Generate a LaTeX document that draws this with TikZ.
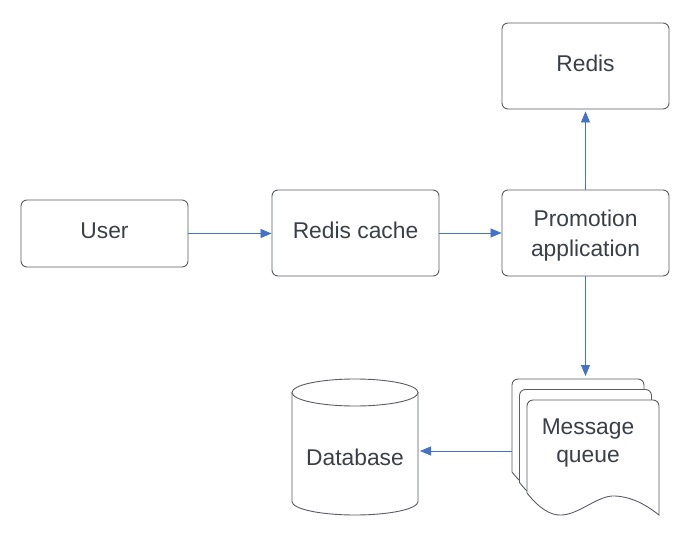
\documentclass[tikz,border=0pt]{standalone}
\usepackage{fontspec}
\setmainfont{Liberation Sans}
\usetikzlibrary{arrows.meta}
\definecolor{txt}{HTML}{3A3F48}
\definecolor{brd}{HTML}{5A5D63}
\definecolor{arr}{HTML}{4472C4}
\begin{document}
\begin{tikzpicture}[x=1pt,y=-1pt,
  box/.style={draw=brd,line width=0.9pt,rounded corners=6pt,fill=white,
    minimum width=167pt,inner sep=0pt},
  lbl/.style={inner sep=0pt,align=center,text=txt,font=\fontsize{22.8}{30}\selectfont},
  shapeline/.style={draw=brd,line width=0.9pt,fill=white},
  conn/.style={draw=arr,line width=0.8pt,-{Triangle[length=11pt,width=9pt]}}]
\useasboundingbox (0,0) rectangle (690,537);
\fill[white] (0,0) rectangle (690,537);
% boxes
\node[box,minimum height=67pt] (user) at (104.5,233.5) {};
\node[box,minimum height=86pt] (cache) at (355.5,233) {};
\node[box,minimum height=86pt] (promo) at (585.5,233) {};
\node[box,minimum height=86pt] (redis) at (585.5,66) {};
\node[lbl] (userl) at (user.center) [yshift=2.5pt] {User};
\node[lbl] (cachel) at (cache.center) [yshift=2.5pt] {Redis cache};
\node[lbl,font=\fontsize{22.8}{30.5}\selectfont] (promol) at (promo.center) [yshift=-2.5pt] {Promotion\\application};
\node[lbl] (redisl) at (redis.center) [yshift=3pt] {Redis};
% message queue (stacked documents)
\foreach \dx/\dy in {-15/-21,-7.5/-10.5,0/0}{
  \begin{scope}[shift={(\dx,\dy)}]
  \path[shapeline] (527,493) -- (527,406) .. controls (527,402.7) and (529.7,400) .. (533,400)
    -- (653,400) .. controls (656.3,400) and (659,402.7) .. (659,406) -- (659,515)
    .. controls (650,508) and (635,497) .. (615,496)
    .. controls (598,495) and (580,514) .. (562,515)
    .. controls (550,516) and (538,507) .. (527,493) -- cycle;
  \end{scope}}
\node[lbl,font=\fontsize{22.8}{28}\selectfont] (mq) at (588,443) {Message\\queue};
\coordinate (mqtop) at (585.5,379);
\coordinate (mqleft) at (512,451);
% database cylinder
\path[shapeline] (292,392.5) -- (292,501.5) .. controls (292,508.96) and (320.2,515) .. (355,515)
  .. controls (389.8,515) and (418,508.96) .. (418,501.5) -- (418,392.5) -- cycle;
\draw[shapeline] (355,392.5) ellipse [x radius=63, y radius=13.5];
\node[lbl] (db) at (355,457) {Database};
\coordinate (dbright) at (418,451);
% connectors
\draw[conn] (user.east) -- (cache.west |- user.east);
\draw[conn] (cache.east) -- (promo.west);
\draw[conn,shorten >=2pt] (promo.north) -- (redis.south);
\draw[conn,shorten >=3pt] (promo.south) -- (mqtop);
\draw[conn,shorten >=2pt] (mqleft) -- (dbright);
\end{tikzpicture}
\end{document}
